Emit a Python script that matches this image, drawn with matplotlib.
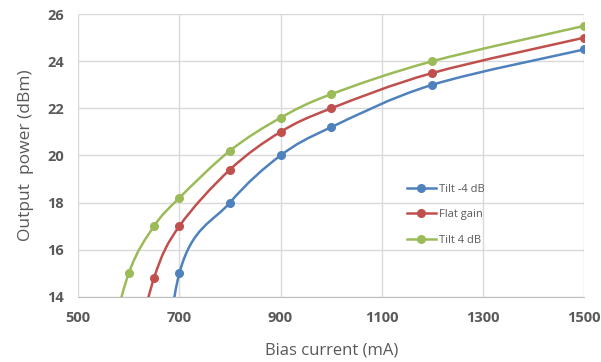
import matplotlib
matplotlib.use("Agg")
import matplotlib.pyplot as plt
from matplotlib.path import Path
from matplotlib.patches import PathPatch
from matplotlib.lines import Line2D

# measured points (the first point of each series lies below the axis floor, as in the source)
bias_tilt_m4 = [650, 700, 800, 900, 1000, 1200, 1500]
pow_tilt_m4 = [6.0, 15.0, 18.0, 20.0, 21.2, 23.0, 24.5]
bias_flat = [600, 650, 700, 800, 900, 1000, 1200, 1500]
pow_flat = [10.5, 14.8, 17.0, 19.4, 21.0, 22.0, 23.5, 25.0]
bias_tilt_p4 = [550, 600, 650, 700, 800, 900, 1000, 1200, 1500]
pow_tilt_p4 = [11.0, 15.0, 17.0, 18.2, 20.2, 21.6, 22.6, 24.0, 25.5]

labels = ["Tilt -4 dB", "Flat gain", "Tilt 4 dB"]
colors = ["#4f81bd", "#c0504d", "#9bbb59"]
xticks = [500, 700, 900, 1100, 1300, 1500]
yticks = [14, 16, 18, 20, 22, 24, 26]

TICK = "#595959"
plt.rcParams["font.family"] = ["Open Sans", "DejaVu Sans"]


def smooth_path(xs, ys):
    """Excel-style smoothed line: cubic Bezier segments, Catmull-Rom tangents."""
    pts = list(zip(xs, ys))
    verts = [pts[0]]
    codes = [Path.MOVETO]
    n = len(pts)
    for i in range(n - 1):
        p0 = pts[max(i - 1, 0)]
        p1 = pts[i]
        p2 = pts[i + 1]
        p3 = pts[min(i + 2, n - 1)]
        c1 = (p1[0] + (p2[0] - p0[0]) / 6, p1[1] + (p2[1] - p0[1]) / 6)
        c2 = (p2[0] - (p3[0] - p1[0]) / 6, p2[1] - (p3[1] - p1[1]) / 6)
        verts += [c1, c2, p2]
        codes += [Path.CURVE4] * 3
    return Path(verts, codes)


fig = plt.figure(figsize=(6.01, 3.62), dpi=100)
ax = fig.add_axes([0.130, 0.180, 0.842, 0.781])

series = [(bias_tilt_m4, pow_tilt_m4), (bias_flat, pow_flat), (bias_tilt_p4, pow_tilt_p4)]
handles = []
for (xs, ys), lab, c in zip(series, labels, colors):
    ax.add_patch(PathPatch(smooth_path(xs, ys), facecolor="none", edgecolor=c, lw=1.8, zorder=3))
    ax.plot(xs, ys, "o", color=c, ms=5.5, zorder=4)
    handles.append(Line2D([], [], color=c, lw=1.8, marker="o", ms=5.5, label=lab))

ax.set_xlim(500, 1500)
ax.set_ylim(14, 26)
ax.set_xticks(xticks)
ax.set_yticks(yticks)
ax.grid(True, color="#d9d9d9", lw=1)
ax.set_axisbelow(True)
for s in ["top", "right", "left"]:
    ax.spines[s].set_visible(False)
ax.spines["bottom"].set_color("#bfbfbf")
ax.tick_params(length=0, labelsize=10.5, labelcolor=TICK, pad=10)
for t in ax.get_xticklabels() + ax.get_yticklabels():
    t.set_fontweight("bold")
ax.set_xlabel("Bias current (mA)", fontsize=12, color=TICK, labelpad=13)
ax.set_ylabel("Output  power (dBm)", fontsize=12.5, color=TICK, labelpad=10)

ax.legend(handles=handles, loc="center left", bbox_to_anchor=(0.63, 0.29), frameon=False,
          fontsize=8, labelcolor=TICK, handlelength=2.6, labelspacing=1.3, handletextpad=0.3)

fig.savefig("out.png", dpi=100)
